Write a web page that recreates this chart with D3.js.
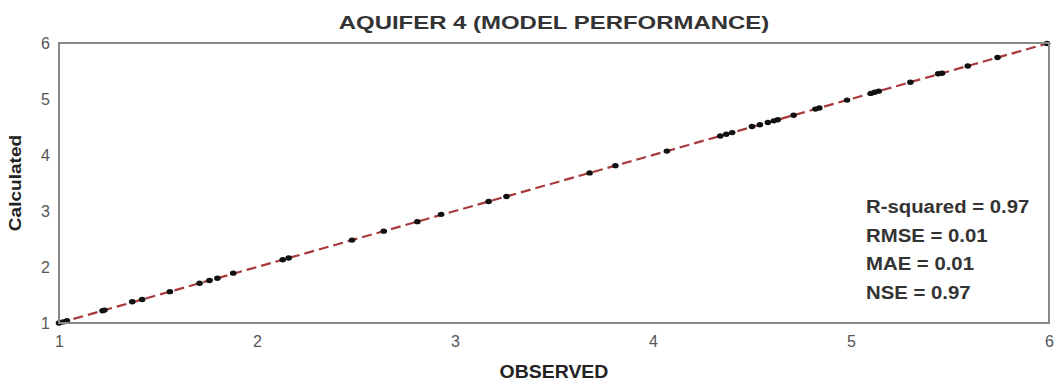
<!DOCTYPE html>
<html>
<head>
<meta charset="utf-8">
<script src="https://cdn.jsdelivr.net/npm/d3@7"></script>
<style>
  html, body { margin: 0; padding: 0; background: #fff; }
  svg { display: block; font-family: "Liberation Sans", Arial, sans-serif; }
</style>
</head>
<body>
<svg id="chart" width="1061" height="383"></svg>
<script>
// Observed vs calculated water levels
const observed = [1.00, 1.02, 1.04, 1.22, 1.23, 1.37, 1.42, 1.56, 1.71, 1.76, 1.80, 1.88,
  2.13, 2.16, 2.48, 2.64, 2.81, 2.93, 3.17, 3.26, 3.68, 3.81, 4.07, 4.34, 4.37, 4.40,
  4.50, 4.54, 4.58, 4.61, 4.63, 4.71, 4.82, 4.84, 4.98, 5.10, 5.12, 5.14, 5.30, 5.44,
  5.46, 5.59, 5.74, 5.99];
const calculated = [1.00, 1.02, 1.04, 1.22, 1.23, 1.38, 1.42, 1.56, 1.71, 1.76, 1.80, 1.89,
  2.13, 2.16, 2.48, 2.64, 2.81, 2.94, 3.17, 3.26, 3.68, 3.81, 4.07, 4.34, 4.37, 4.40,
  4.51, 4.54, 4.58, 4.61, 4.63, 4.71, 4.82, 4.84, 4.98, 5.10, 5.12, 5.14, 5.30, 5.45,
  5.46, 5.59, 5.74, 5.99];
const tickValues = [1, 2, 3, 4, 5, 6];
const statLabels = ["R-squared = 0.97", "RMSE = 0.01", "MAE = 0.01", "NSE = 0.97"];
const fitLine = [1, 6];

const svg = d3.select("#chart");
const margin = { left: 59, right: 12, top: 43, bottom: 60 };
const W = 1061, H = 383;

const x = d3.scaleLinear().domain([1, 6]).range([margin.left, W - margin.right]);
const y = d3.scaleLinear().domain([1, 6]).range([H - margin.bottom, margin.top]);

// Widen glyphs horizontally by a factor (the figure uses a wide face)
function stretch(sel, factor) {
  sel.each(function () {
    const len = this.getComputedTextLength();
    d3.select(this).attr("textLength", len * factor).attr("lengthAdjust", "spacingAndGlyphs");
  });
}

// Axes (labels only, no tick marks)
const xAxis = svg.append("g")
  .attr("transform", `translate(0,${H - margin.bottom})`)
  .call(d3.axisBottom(x).tickValues(tickValues).tickSize(0).tickPadding(13).tickFormat(d3.format("d")));
const yAxis = svg.append("g")
  .attr("transform", `translate(${margin.left},0)`)
  .call(d3.axisLeft(y).tickValues(tickValues).tickSize(0).tickPadding(9).tickFormat(d3.format("d")));
[xAxis, yAxis].forEach(g => {
  g.select(".domain").remove();
  g.selectAll("text").attr("fill", "#555").style("font-size", "16px")
    .style("font-family", "'Liberation Sans', Arial, sans-serif");
});

// 1:1 reference line
svg.append("line")
  .attr("x1", x(fitLine[0])).attr("y1", y(fitLine[0]))
  .attr("x2", x(fitLine[1])).attr("y2", y(fitLine[1]))
  .attr("stroke", "#a8393d").attr("stroke-width", 2.2)
  .attr("stroke-dasharray", "10,5");

// Points
svg.append("g").selectAll("ellipse")
  .data(observed.map((o, i) => [o, calculated[i]]))
  .join("ellipse")
  .attr("cx", d => x(d[0])).attr("cy", d => y(d[1]))
  .attr("rx", 3.3).attr("ry", 2.7)
  .attr("fill", "#111");

// Frame
svg.append("rect")
  .attr("x", margin.left).attr("y", margin.top)
  .attr("width", W - margin.left - margin.right)
  .attr("height", H - margin.top - margin.bottom)
  .attr("fill", "none").attr("stroke", "#888").attr("stroke-width", 2);

// Title
svg.append("text")
  .attr("x", 554).attr("y", 29)
  .attr("text-anchor", "middle").attr("font-weight", "bold")
  .attr("font-size", 19).attr("fill", "#333")
  .text("AQUIFER 4 (MODEL PERFORMANCE)")
  .call(stretch, 1.26);

// Axis titles
svg.append("text")
  .attr("x", 554).attr("y", 378)
  .attr("text-anchor", "middle").attr("font-weight", "bold")
  .attr("font-size", 18).attr("fill", "#222")
  .text("OBSERVED")
  .call(stretch, 1.08);
svg.append("text")
  .attr("transform", `translate(21,${(margin.top + H - margin.bottom) / 2}) rotate(-90)`)
  .attr("text-anchor", "middle").attr("font-weight", "bold")
  .attr("font-size", 17).attr("fill", "#222")
  .text("Calculated")
  .call(stretch, 1.12);

// Statistics block
svg.append("g").selectAll("text")
  .data(statLabels)
  .join("text")
  .attr("x", 866).attr("y", (d, i) => 213 + i * 28.5)
  .attr("font-weight", "bold").attr("font-size", 18).attr("fill", "#333")
  .text(d => d)
  .call(stretch, 1.13);
</script>
</body>
</html>
